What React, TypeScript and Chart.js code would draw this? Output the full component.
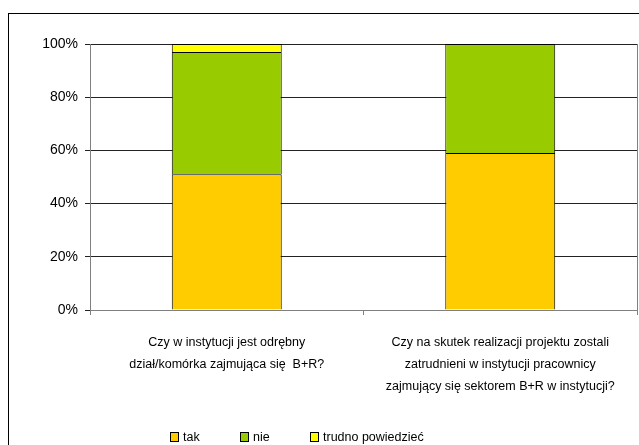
import React, { useEffect, useRef } from "react";
import { Chart, registerables } from "chart.js";

Chart.register(...registerables);

const categories: string[][] = [
  ["Czy w instytucji jest odrębny", "dział/komórka zajmująca się  B+R?"],
  [
    "Czy na skutek realizacji projektu zostali",
    "zatrudnieni w instytucji pracownicy",
    "zajmujący się sektorem B+R w instytucji?",
  ],
];
const seriesNames = ["tak", "nie", "trudno powiedzieć"];
const takValues = [51, 59];
const nieValues = [46, 41];
const trudnoValues = [3, 0];
const seriesColors = ["#FFCC00", "#99CC00", "#FFFF00"];

const FONT = "'Liberation Sans', Arial, sans-serif";

const rightBorder = {
  id: "rightBorder",
  afterDraw(chart: any) {
    const { ctx, chartArea } = chart;
    ctx.save();
    ctx.strokeStyle = "#808080";
    ctx.lineWidth = 1;
    ctx.beginPath();
    ctx.moveTo(Math.round(chartArea.right) + 0.5, chartArea.top);
    ctx.lineTo(Math.round(chartArea.right) + 0.5, chartArea.bottom + 5);
    ctx.stroke();
    ctx.restore();
  },
};

export default function App() {
  const ref = useRef<HTMLCanvasElement>(null);
  useEffect(() => {
    if (!ref.current) return;
    const values = [takValues, nieValues, trudnoValues];
    const chart = new Chart(ref.current, {
      type: "bar",
      data: {
        labels: categories,
        datasets: seriesNames.map((name, i) => ({
          label: name,
          data: values[i],
          backgroundColor: seriesColors[i],
          borderColor: "#000",
          borderWidth: 1,
          categoryPercentage: 1,
          barPercentage: 0.402,
        })),
      },
      options: {
        animation: false,
        responsive: false,
        maintainAspectRatio: false,
        layout: { padding: { top: 30, right: 2, left: 0, bottom: 0 } },
        plugins: { legend: { display: false }, tooltip: { enabled: false } },
        scales: {
          x: {
            stacked: true,
            offset: true,
            afterFit: (s: any) => {
              s.height = 135;
              s.paddingLeft = 0;
              s.paddingRight = 0;
            },
            grid: {
              drawOnChartArea: false,
              drawTicks: true,
              tickLength: 5,
              color: "#808080",
              offset: true,
            },
            border: { color: "#808080" },
            ticks: {
              color: "#000",
              maxRotation: 0,
              autoSkip: false,
              padding: 17,
              font: { family: FONT, size: 12.5, lineHeight: 1.73 },
            },
          },
          y: {
            stacked: true,
            min: 0,
            max: 100,
            afterFit: (s: any) => {
              s.width = 81;
            },
            grid: { color: "#222", tickLength: 5, drawTicks: true },
            border: { color: "#808080" },
            ticks: {
              stepSize: 20,
              padding: 7,
              color: "#000",
              font: { family: FONT, size: 14 },
              callback: (v: any) => v + "%",
            },
          },
        },
      },
      plugins: [rightBorder],
    });
    return () => chart.destroy();
  }, []);

  const legendX = [170, 240, 310];
  return (
    <div
      style={{
        position: "absolute",
        left: 8,
        top: 13,
        width: 631,
        height: 432,
        borderLeft: "1px solid #000",
        borderTop: "1px solid #000",
        boxSizing: "border-box",
        background: "#fff",
        overflow: "hidden",
      }}
    >
      <canvas
        ref={ref}
        width={630}
        height={431}
        style={{ position: "absolute", left: 0, top: 0, width: 630, height: 431 }}
      />
      {seriesNames.map((name, i) => (
        <div
          key={name}
          style={{
            position: "absolute",
            left: legendX[i] - 9,
            top: 416,
            height: 14,
            display: "flex",
            alignItems: "center",
            fontFamily: FONT,
            fontSize: 12.5,
            color: "#000",
            whiteSpace: "nowrap",
          }}
        >
          <span
            style={{
              display: "inline-block",
              width: 7,
              height: 8,
              background: seriesColors[i],
              border: "1px solid #000",
              marginRight: 4,
            }}
          />
          {name}
        </div>
      ))}
    </div>
  );
}
